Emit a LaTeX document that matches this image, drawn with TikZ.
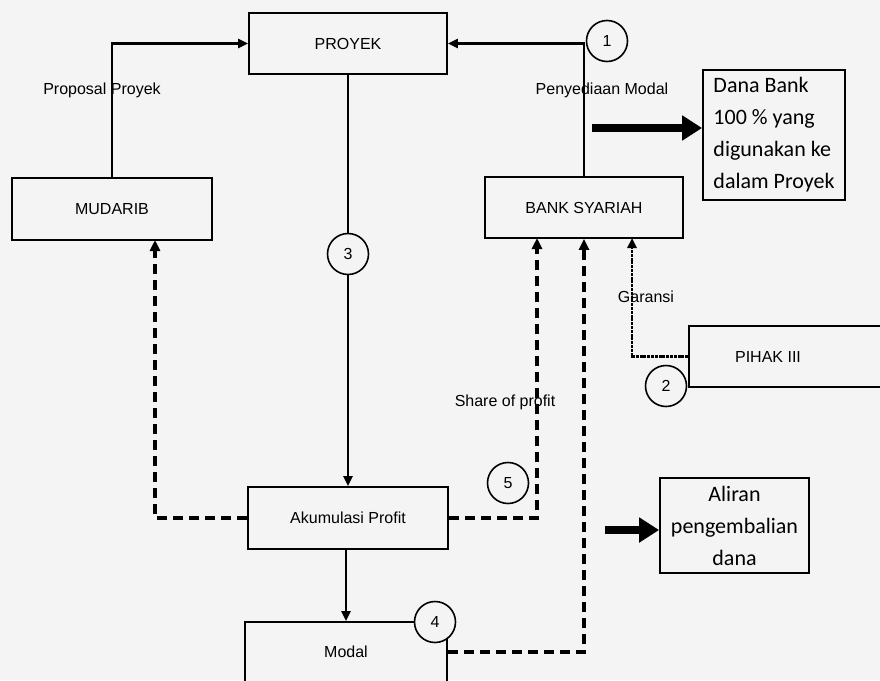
\documentclass[tikz,border=0pt]{standalone}
\usepackage{fontspec}
\setmainfont{Liberation Sans}
\newfontfamily\calibrifont{Carlito}
\usetikzlibrary{arrows.meta}
\definecolor{paper}{RGB}{244,244,244}
\begin{document}
\begin{tikzpicture}[x=1pt,y=-1pt,
  box/.style={draw, line width=1.8pt, rectangle, inner sep=0pt, fill=paper,
    font=\fontsize{16}{19}\selectfont},
  numc/.style={draw, line width=1.6pt, circle, inner sep=0pt, minimum size=41pt, fill=paper,
    font=\fontsize{16}{19}\selectfont},
  conn/.style={line width=2.4pt, -{Triangle[length=10pt,width=9pt]}},
  dconn/.style={line width=3.5pt, dash pattern=on 10pt off 6pt, -{Triangle[length=11pt,width=10pt]}},
  gconn/.style={line width=2.6pt, dash pattern=on 3pt off 0.8pt, -{Triangle[length=10pt,width=9pt]}},
  fat/.style={line width=8pt, -{Triangle[length=20pt,width=24pt]}},
  lbl/.style={font=\fontsize{16}{19}\selectfont, inner sep=0pt},
  cbox/.style={draw, line width=1.8pt, rectangle, inner sep=0pt, fill=paper,
    font=\calibrifont\fontsize{22}{32}\selectfont}
]
\fill[paper] (0,0) rectangle (880,680);
\useasboundingbox (0,0) rectangle (880,680);
\clip (0,0) rectangle (880,680);

% boxes
\node[box, minimum width=198pt, minimum height=61pt] (proyek) at (348,43.5) {PROYEK};
\node[box, minimum width=200pt, minimum height=62pt] (mudarib) at (112,209) {MUDARIB};
\node[box, minimum width=198pt, minimum height=61pt] (bank) at (584,207.5) {BANK SYARIAH};
\node[box, minimum width=200pt, minimum height=62pt] (akum) at (348,518) {Akumulasi Profit};
\node[box, minimum width=202pt, minimum height=60pt] (modal) at (346,652) {Modal};
\node[box, minimum width=206pt, minimum height=61pt,
  label={[lbl, xshift=-24pt]center:PIHAK III}] (pihak) at (792,356.5) {};
\node[cbox, minimum width=142pt, minimum height=130pt, align=left] (dana) at (774,135)
  {Dana Bank\\100 \% yang\\digunakan ke\\dalam Proyek};
\node[cbox, minimum width=149pt, minimum height=95pt, align=center] (aliran) at (734.5,525.5)
  {Aliran\\pengembalian\\dana};

% free ends
\coordinate (gtop) at (632,238);
\coordinate (s5) at (537,238);
\coordinate (m5) at (155,240);
\coordinate (t1) at (592,128);
\coordinate (t2) at (605,530);

% connectors
\draw[conn] (mudarib.north) |- (proyek.west);
\draw[conn] (bank.north) |- (proyek.east);
\node[numc] (c3) at (348,254) {3};
\draw[line width=2.4pt] (proyek.south) -- (c3.north);
\draw[conn] (c3.south) -- (akum.north);
\draw[conn] (akum.south -| modal.north) -- (modal.north);
\draw[gconn] (pihak.west) -| (gtop);
\draw[dconn] (akum.east) -| (s5);
\draw[dconn] (modal.east) -| (bank.south);
\draw[dconn] (akum.west) -| (m5);
\draw[fat] (t1) -- (dana.west |- t1);
\draw[fat] (t2) -- (aliran.west |- t2);

% numbered circles
\node[numc] (c1) at (607,41) {1};
\node[numc] (c2) at (666,386) {2};
\node[numc] (c4) at (435,622) {4};
\node[numc] (c5) at (508,483) {5};

% labels
\node[lbl] (lprop) at (102,90) {Proposal Proyek};
\node[lbl] (lpeny) at (602,90) {Penyediaan Modal};
\node[lbl] (lgar) at (646,297) {Garansi};
\node[lbl] (lshare) at (505,402) {Share of profit};
\end{tikzpicture}
\end{document}
